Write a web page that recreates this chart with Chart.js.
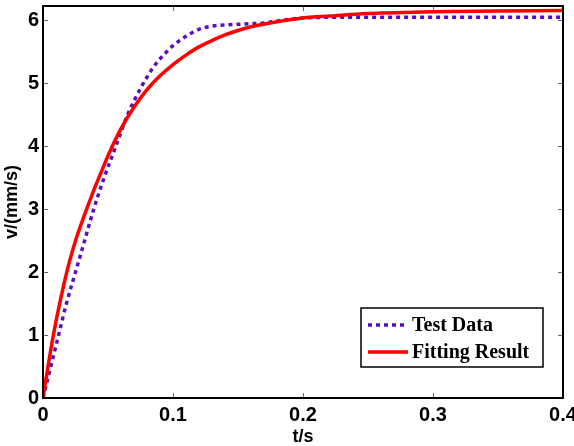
<!DOCTYPE html>
<html>
<head>
<meta charset="utf-8">
<script src="https://cdn.jsdelivr.net/npm/chart.js@4.4.1/dist/chart.umd.min.js"></script>
<style>
  html, body { margin: 0; padding: 0; background: #ffffff; }
  #wrap { width: 574px; height: 446px; }
</style>
</head>
<body>
<div id="wrap"><canvas id="myChart" width="574" height="446"></canvas></div>
<script>
// Test Data (dotted purple)
var testT = [0, 0.006, 0.012, 0.018, 0.025, 0.032, 0.039, 0.047, 0.056, 0.065, 0.07, 0.075, 0.08, 0.085, 0.09, 0.095, 0.10, 0.105, 0.11, 0.115, 0.12, 0.125, 0.13, 0.14, 0.15, 0.16, 0.17, 0.18, 0.19, 0.2, 0.22, 0.3, 0.4];
var testV = [0, 0.5, 1.0, 1.5, 2.0, 2.5, 3.0, 3.5, 4.0, 4.5, 4.72, 4.92, 5.1, 5.26, 5.39, 5.5, 5.6, 5.68, 5.75, 5.81, 5.86, 5.89, 5.91, 5.93, 5.94, 5.95, 5.96, 5.99, 6.02, 6.04, 6.05, 6.05, 6.05];

// Fitting Result (solid red)
var fitT = [0, 0.004, 0.008, 0.012, 0.016, 0.02, 0.025, 0.03, 0.035, 0.04, 0.045, 0.05, 0.06, 0.07, 0.08, 0.09, 0.10, 0.11, 0.12, 0.13, 0.14, 0.15, 0.16, 0.18, 0.20, 0.22, 0.25, 0.30, 0.35, 0.40];
var fitV = [0, 0.52, 1.0, 1.42, 1.8, 2.14, 2.5, 2.8, 3.08, 3.35, 3.6, 3.85, 4.28, 4.62, 4.9, 5.12, 5.3, 5.45, 5.58, 5.68, 5.77, 5.84, 5.9, 5.98, 6.04, 6.07, 6.11, 6.14, 6.15, 6.16];

var xTicks = [0, 0.1, 0.2, 0.3, 0.4];
var yTicks = [0, 1, 2, 3, 4, 5, 6];
var seriesNames = ['Test Data', 'Fitting Result'];

function toPoints(ts, vs) {
    return ts.map(function (t, i) { return { x: t, y: vs[i] }; });
}

// frame, inward ticks (matlab style) and the legend box
var matlabAxes = {
    id: 'matlabAxes',
    afterDatasetsDraw: function (chart) {
        var ctx = chart.ctx;
        var a = chart.chartArea;
        var xs = chart.scales.x, ys = chart.scales.y;
        ctx.save();
        ctx.strokeStyle = '#666666';
        ctx.lineWidth = 1;
        ctx.beginPath();
        xTicks.forEach(function (v) {
            var px = Math.round(xs.getPixelForValue(v)) + 0.5;
            ctx.moveTo(px, a.bottom); ctx.lineTo(px, a.bottom - 5);
            ctx.moveTo(px, a.top); ctx.lineTo(px, a.top + 5);
        });
        yTicks.forEach(function (v) {
            var py = Math.round(ys.getPixelForValue(v)) + 0.5;
            ctx.moveTo(a.left, py); ctx.lineTo(a.left + 5, py);
            ctx.moveTo(a.right, py); ctx.lineTo(a.right - 5, py);
        });
        ctx.stroke();

        ctx.strokeStyle = '#000000';
        ctx.lineWidth = 2;
        ctx.strokeRect(a.left, a.top, a.right - a.left, a.bottom - a.top);

        // legend
        var bw = 182, bh = 59;
        var bx = a.right - 20 - bw, by = a.bottom - 31 - bh;
        ctx.fillStyle = '#ffffff';
        ctx.fillRect(bx, by, bw, bh);
        ctx.lineWidth = 1.5;
        ctx.strokeRect(bx, by, bw, bh);
        ctx.font = 'bold 20px "Liberation Serif", "Times New Roman", serif';
        ctx.textBaseline = 'middle';
        ctx.textAlign = 'left';
        chart.data.datasets.forEach(function (ds, i) {
            var cy = by + 17 + i * 27;
            ctx.beginPath();
            ctx.strokeStyle = ds.borderColor;
            ctx.lineWidth = ds.borderWidth;
            ctx.setLineDash(ds.borderDash || []);
            ctx.moveTo(bx + 7, cy); ctx.lineTo(bx + 47, cy);
            ctx.stroke();
            ctx.setLineDash([]);
            ctx.fillStyle = '#000000';
            ctx.fillText(ds.label, bx + 51, cy + 1);
        });
        ctx.restore();
    }
};

var tickFont = { family: '"Liberation Sans", Arial, sans-serif', size: 20, weight: 'bold' };
var titleFont = { family: '"Liberation Sans", Arial, sans-serif', size: 18, weight: 'bold', lineHeight: 1 };

new Chart(document.getElementById('myChart'), {
    type: 'scatter',
    data: {
        datasets: [{
            label: seriesNames[0],
            data: toPoints(testT, testV),
            showLine: true,
            borderColor: '#5a0fbe',
            borderWidth: 3.5,
            borderDash: [4, 4],
            pointRadius: 0,
            cubicInterpolationMode: 'monotone',
            order: 1
        }, {
            label: seriesNames[1],
            data: toPoints(fitT, fitV),
            showLine: true,
            borderColor: '#ff0000',
            borderWidth: 3.5,
            pointRadius: 0,
            cubicInterpolationMode: 'monotone',
            order: 0
        }]
    },
    options: {
        responsive: false,
        animation: false,
        layout: { padding: { left: 0, top: 6, right: 11, bottom: 0 } },
        plugins: {
            legend: { display: false },
            tooltip: { enabled: false }
        },
        scales: {
            x: {
                type: 'linear',
                min: 0,
                max: 0.4,
                afterBuildTicks: function (s) { s.ticks = xTicks.map(function (v) { return { value: v }; }); },
                afterFit: function (s) { s.height = 48; s.paddingLeft = 0; s.paddingRight = 0; },
                grid: { display: false, drawTicks: false },
                border: { display: false },
                ticks: {
                    color: '#000000',
                    font: tickFont,
                    padding: 5,
                    maxRotation: 0,
                    callback: function (v) { return v === 0 ? '0' : String(v); }
                },
                title: { display: true, text: 't/s', color: '#000000', font: titleFont, padding: { top: 0, bottom: 0 } }
            },
            y: {
                type: 'linear',
                min: 0,
                max: 6.23,
                afterBuildTicks: function (s) { s.ticks = yTicks.map(function (v) { return { value: v }; }); },
                afterFit: function (s) { s.width = 43; s.paddingTop = 0; s.paddingBottom = 0; },
                grid: { display: false, drawTicks: false },
                border: { display: false },
                ticks: {
                    color: '#000000',
                    font: tickFont,
                    padding: 4
                },
                title: { display: true, text: 'v/(mm/s)', color: '#000000', font: titleFont, padding: { top: 3, bottom: 0 } }
            }
        }
    },
    plugins: [matlabAxes]
});
</script>
</body>
</html>
